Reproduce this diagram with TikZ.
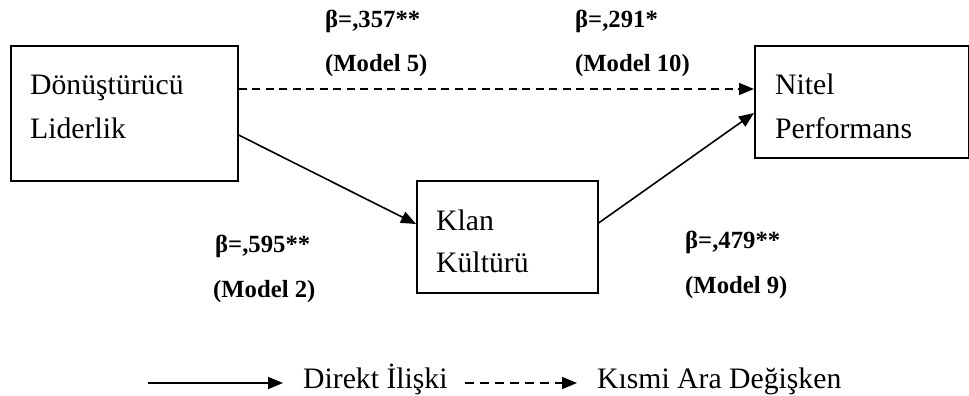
\documentclass[tikz,border=0pt]{standalone}
\usepackage{fontspec}
\setmainfont{Liberation Serif}
\usetikzlibrary{arrows.meta}
\begin{document}
\begin{tikzpicture}[x=1pt,y=-1pt,
  box/.style={draw,line width=1.6pt,inner sep=0pt,anchor=north west},
  txt/.style={anchor=base west,inner sep=0pt,font=\fontsize{29.7}{36}\selectfont},
  lbl/.style={anchor=base west,inner sep=0pt,font=\fontsize{24.7}{30}\selectfont\bfseries},
  conn/.style={line width=1.6pt,-{Triangle[length=15pt,width=12pt]}},
  dconn/.style={conn,dash pattern=on 8pt off 5.5pt},
  ldconn/.style={conn,dash pattern=on 9pt off 6pt}]
\useasboundingbox (0,0) rectangle (969,396);
% boxes
\node[box,minimum width=227pt,minimum height=135pt] (dl) at (10,45) {};
\node[box,minimum width=214pt,minimum height=112pt] (np) at (754,45) {};
\node[box,minimum width=181pt,minimum height=112pt] (kk) at (416,180) {};
% box texts
\node[txt] (dl1) at (30,94) {Dönüştürücü};
\node[txt] (dl2) at (30,138) {Liderlik};
\node[txt] (np1) at (775,94) {Nitel};
\node[txt] (np2) at (775,138) {Performans};
\node[txt] (kk1) at (436,230) {Klan};
\node[txt] (kk2) at (436,272) {Kültürü};
% connectors
\coordinate (yd) at (0,89);
\coordinate (ya) at (0,135);
\coordinate (yb) at (0,224);
\coordinate (yc) at (0,223);
\coordinate (ye) at (0,113);
\draw[dconn] (dl.east |- yd) -- (np.west |- yd);
\draw[conn] (dl.east |- ya) -- (kk.west |- yb);
\draw[conn] (kk.east |- yc) -- (np.west |- ye);
% labels
\node[lbl] (b1) at (325,28) {β=,357**};
\node[lbl] (m1) at (325,72) {(Model 5)};
\node[lbl] (b2) at (575,28) {β=,291*};
\node[lbl] (m2) at (575,72) {(Model 10)};
\node[lbl] (b3) at (215,252) {β=,595**};
\node[lbl] (m3) at (213,297) {(Model 2)};
\node[lbl] (b4) at (685,248) {β=,479**};
\node[lbl] (m4) at (685,293) {(Model 9)};
% legend
\coordinate (l1a) at (148,383);
\coordinate (l1b) at (283,383);
\coordinate (l2a) at (465,383);
\coordinate (l2b) at (577,383);
\draw[conn] (l1a) -- (l1b);
\node[txt] (t1) at (303,388) {Direkt İlişki};
\draw[ldconn] (l2a) -- (l2b);
\node[txt] (t2) at (597,388) {Kısmi Ara Değişken};
\end{tikzpicture}
\end{document}
